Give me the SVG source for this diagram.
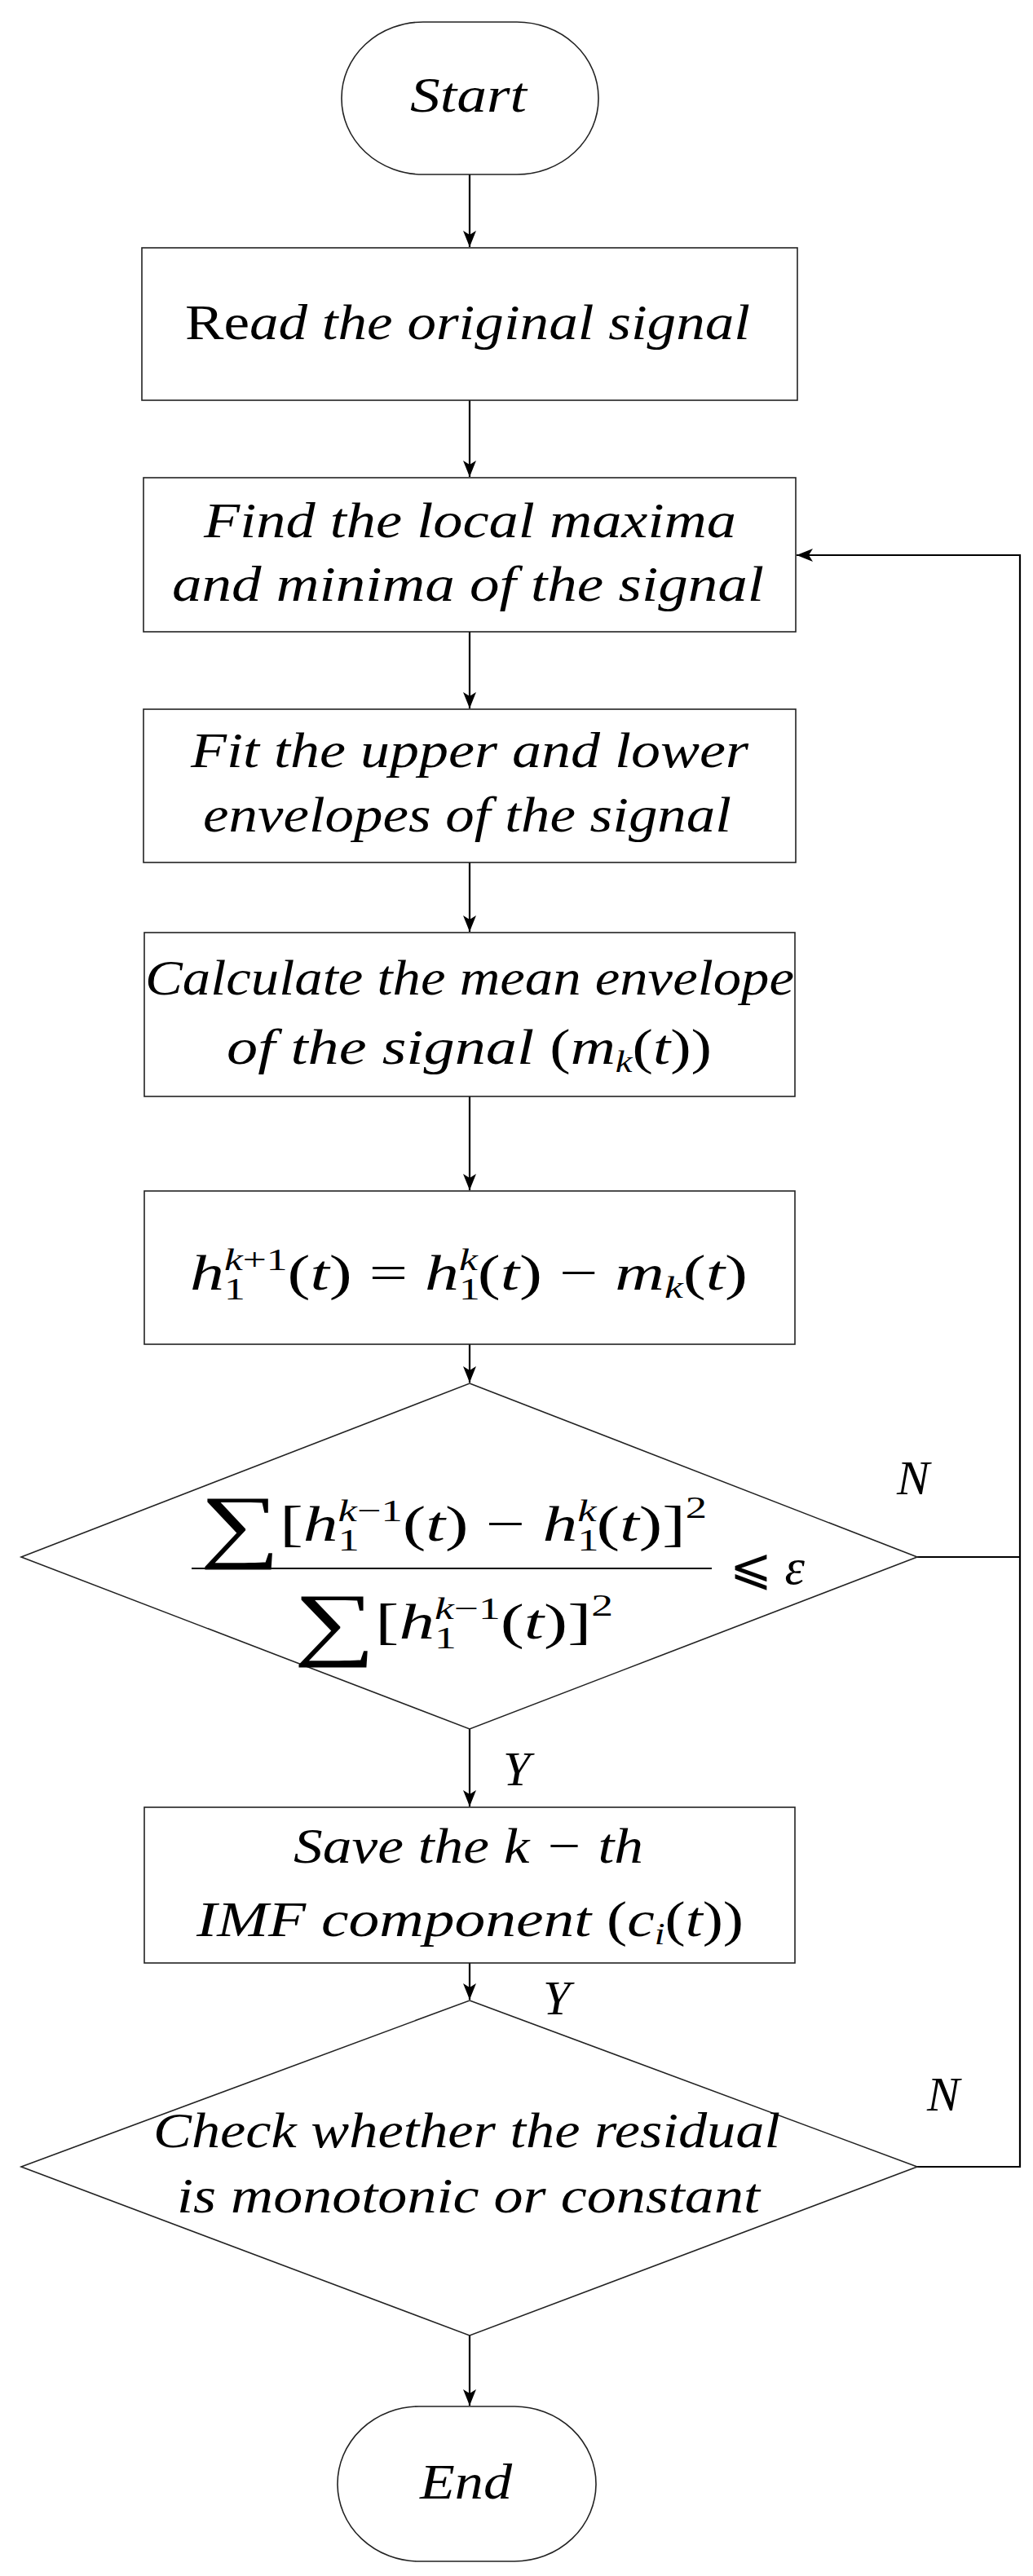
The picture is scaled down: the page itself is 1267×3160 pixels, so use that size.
<svg xmlns="http://www.w3.org/2000/svg" width="1267" height="3160" viewBox="0 0 1267 3160">
<style>
.s{fill:#fff;stroke:#222;stroke-width:1.6}
.t{font-family:"Liberation Serif",serif;font-style:italic;font-size:62px;fill:#000}
.c{stroke:#000;stroke-width:2.2;fill:none}
.l{font-family:"Liberation Serif",serif;font-style:italic;font-size:60px}
.sm{font-size:38px}
.u{font-style:normal}
</style>
<defs>
<marker id="a" viewBox="0 0 20 20" refX="20" refY="10" markerWidth="20" markerHeight="20" markerUnits="userSpaceOnUse" orient="auto">
<path d="M0,2 L20,10 L0,18 L5,10 Z" fill="#000"/>
</marker>
</defs>
<rect width="1267" height="3160" fill="#fff"/>
<g id="connectors">
<line class="c" x1="576" y1="214" x2="576" y2="303" marker-end="url(#a)"/>
<line class="c" x1="576" y1="491" x2="576" y2="585" marker-end="url(#a)"/>
<line class="c" x1="576" y1="775" x2="576" y2="869" marker-end="url(#a)"/>
<line class="c" x1="576" y1="1058" x2="576" y2="1143" marker-end="url(#a)"/>
<line class="c" x1="576" y1="1345" x2="576" y2="1460" marker-end="url(#a)"/>
<line class="c" x1="576" y1="1649" x2="576" y2="1696" marker-end="url(#a)"/>
<line class="c" x1="576" y1="2121" x2="576" y2="2216" marker-end="url(#a)"/>
<line class="c" x1="576" y1="2408" x2="576" y2="2453" marker-end="url(#a)"/>
<line class="c" x1="576" y1="2865" x2="576" y2="2951" marker-end="url(#a)"/>
<polyline class="c" points="1125,1910 1251,1910"/>
<polyline class="c" points="1125,2658 1251,2658 1251,681 977,681" marker-end="url(#a)"/>
<text class="l" x="1100" y="1833">N</text>
<text class="l" x="617" y="2190">Y</text>
<text class="l" x="666" y="2471">Y</text>
<text class="l" x="1137" y="2589">N</text>
</g>
<g id="start">
<rect class="s" x="419" y="27" width="315" height="187" rx="100" ry="93"/>
<text class="t" x="503" y="137" textLength="143" lengthAdjust="spacingAndGlyphs">Start</text>
</g>
<g id="read">
<rect class="s" x="174" y="304" width="804" height="187"/>
<text class="t" x="227" y="416" textLength="693" lengthAdjust="spacingAndGlyphs"><tspan class="u">Re</tspan>ad the original signal</text>
</g>
<g id="find">
<rect class="s" x="176" y="586" width="800" height="189"/>
<text class="t" x="250" y="659" textLength="653" lengthAdjust="spacingAndGlyphs">Find the local maxima</text>
<text class="t" x="211" y="737" textLength="726" lengthAdjust="spacingAndGlyphs">and minima of the signal</text>
</g>
<g id="fit">
<rect class="s" x="176" y="870" width="800" height="188"/>
<text class="t" x="234" y="941" textLength="684" lengthAdjust="spacingAndGlyphs">Fit the upper and lower</text>
<text class="t" x="249" y="1020" textLength="648" lengthAdjust="spacingAndGlyphs">envelopes of the signal</text>
</g>
<g id="calc">
<rect class="s" x="177" y="1144" width="798" height="201"/>
<text class="t" x="178" y="1220" textLength="796" lengthAdjust="spacingAndGlyphs">Calculate the mean envelope</text>
<text class="t" x="278" y="1305" textLength="595" lengthAdjust="spacingAndGlyphs">of the signal <tspan class="u">(</tspan>m<tspan class="sm" dy="10">k</tspan><tspan class="u" dy="-10">(</tspan>t<tspan class="u">))</tspan></text>
</g>
<g id="update">
<rect class="s" x="177" y="1461" width="798" height="188"/>
<text class="t" x="233" y="1582" textLength="684" lengthAdjust="spacingAndGlyphs">h<tspan class="sm u" dy="12">1</tspan><tspan class="sm" dx="-19" dy="-36">k<tspan class="u">+1</tspan></tspan><tspan class="u" dy="24">(</tspan>t<tspan class="u">) = </tspan>h<tspan class="sm u" dy="12">1</tspan><tspan class="sm" dx="-19" dy="-36">k</tspan><tspan class="u" dy="24">(</tspan>t<tspan class="u">) − </tspan>m<tspan class="sm" dy="10">k</tspan><tspan class="u" dy="-10">(</tspan>t<tspan class="u">)</tspan></text>
</g>
<g id="check1">
<polygon class="s" points="576,1697 1125,1910 576,2121 26,1910"/>
<text class="t" x="245" y="1890" textLength="622" lengthAdjust="spacingAndGlyphs"><tspan font-size="100" class="u" dy="14">∑</tspan><tspan class="u" dy="-14">[</tspan>h<tspan class="sm u" dy="12">1</tspan><tspan class="sm" dx="-19" dy="-36">k<tspan class="u">−1</tspan></tspan><tspan class="u" dy="24">(</tspan>t<tspan class="u">) − </tspan>h<tspan class="sm u" dy="12">1</tspan><tspan class="sm" dx="-19" dy="-36">k</tspan><tspan class="u" dy="24">(</tspan>t<tspan class="u">)]</tspan><tspan class="sm u" dy="-28">2</tspan></text>
<line x1="235" y1="1924" x2="873" y2="1924" stroke="#000" stroke-width="2"/>
<text class="t" x="360" y="2010" textLength="392" lengthAdjust="spacingAndGlyphs"><tspan font-size="100" class="u" dy="14">∑</tspan><tspan class="u" dy="-14">[</tspan>h<tspan class="sm u" dy="12">1</tspan><tspan class="sm" dx="-19" dy="-36">k<tspan class="u">−1</tspan></tspan><tspan class="u" dy="24">(</tspan>t<tspan class="u">)]</tspan><tspan class="sm u" dy="-28">2</tspan></text>
<text class="t" x="895" y="1943"><tspan class="u">⩽</tspan> ε</text>
</g>
<g id="save">
<rect class="s" x="177" y="2217" width="798" height="191"/>
<text class="t" x="360" y="2285" textLength="429" lengthAdjust="spacingAndGlyphs">Save the k − th</text>
<text class="t" x="241" y="2375" textLength="671" lengthAdjust="spacingAndGlyphs">IMF component <tspan class="u">(</tspan>c<tspan class="sm" dy="10">i</tspan><tspan class="u" dy="-10">(</tspan>t<tspan class="u">))</tspan></text>
</g>
<g id="check2">
<polygon class="s" points="576,2454 1125,2658 576,2865 26,2658"/>
<text class="t" x="188" y="2634" textLength="769" lengthAdjust="spacingAndGlyphs">Check whether the residual</text>
<text class="t" x="217" y="2714" textLength="715" lengthAdjust="spacingAndGlyphs">is monotonic or constant</text>
</g>
<g id="end">
<rect class="s" x="414" y="2952" width="317" height="190" rx="100" ry="95"/>
<text class="t" x="515" y="3065" textLength="113" lengthAdjust="spacingAndGlyphs">End</text>
</g>
</svg>
